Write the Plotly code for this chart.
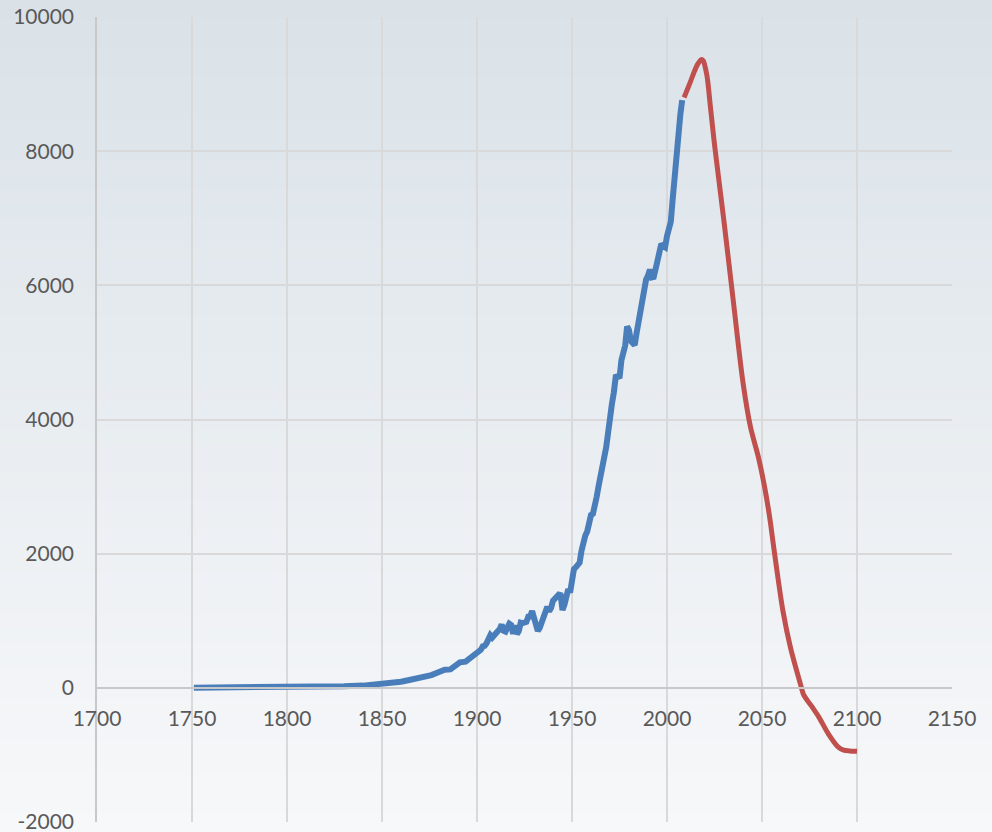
import plotly.graph_objects as go

# ---------------- data ----------------
hist_years = [1751, 1760, 1770, 1780, 1790, 1800, 1810, 1820, 1830, 1840,
              1850, 1855, 1860, 1865, 1870, 1873, 1876, 1880, 1883, 1886,
              1889, 1891, 1894, 1897, 1899] + list(range(1900, 2009))
hist_values = [3, 3, 3, 4, 6, 8, 10, 14, 24, 33,
               54, 70, 91, 120, 147, 185, 190, 236, 270, 275,
               330, 380, 390, 450, 510,
               # 1900-1909
               534, 552, 566, 617, 624, 663, 707, 784, 750, 785,
               # 1910-1919
               819, 836, 879, 943, 850, 838, 901, 955, 936, 806,
               # 1920-1929
               932, 803, 845, 970, 963, 975, 983, 1062, 1065, 1145,
               # 1930-1939
               1053, 940, 847, 893, 973, 1027, 1130, 1209, 1142, 1192,
               # 1940-1949
               1299, 1334, 1342, 1391, 1383, 1160, 1238, 1392, 1469, 1419,
               # 1950-1959
               1630, 1768, 1796, 1841, 1865, 2043, 2178, 2270, 2330, 2462,
               # 1960-1969
               2577, 2594, 2700, 2848, 3008, 3145, 3305, 3411, 3588, 3800,
               # 1970-1979
               4076, 4231, 4399, 4635, 4644, 4615, 4883, 5029, 5105, 5387,
               # 1980-1989
               5332, 5168, 5127, 5110, 5290, 5444, 5610, 5753, 5964, 6089,
               # 1990-1999
               6144, 6235, 6118, 6124, 6242, 6372, 6510, 6619, 6588, 6569,
               # 2000-2008
               6735, 6896, 6949, 7286, 7672, 8020, 8334, 8543, 8760]

proj_years = [2009, 2012, 2014, 2016, 2018, 2019, 2021, 2023, 2025, 2030,
              2035, 2040, 2044, 2048, 2051, 2054, 2056, 2058, 2061, 2065,
              2070, 2072, 2076, 2080, 2085, 2090, 2093, 2096, 2100]
proj_values = [8800, 9010, 9160, 9290, 9365, 9350, 9130, 8620, 8100, 6950,
               5740, 4550, 3880, 3450, 3050, 2550, 2130, 1720, 1150, 600,
               80, -110, -270, -440, -690, -880, -930, -940, -945]

x_ticks = [1700, 1750, 1800, 1850, 1900, 1950, 2000, 2050, 2100, 2150]
y_ticks = [-2000, 0, 2000, 4000, 6000, 8000, 10000]

# ---------------- figure ----------------
W, H = 992, 832
ml, mr, mt, mb = 97, 40, 17, 10
pw, ph = W - ml - mr, H - mt - mb

fig = go.Figure()
fig.add_trace(go.Scatter(x=hist_years, y=hist_values, mode="lines",
                         line=dict(color="#4a7ebb", width=6),
                         showlegend=False, hoverinfo="x+y"))
fig.add_trace(go.Scatter(x=proj_years, y=proj_values, mode="lines",
                         line=dict(color="#c0504d", width=5, shape="spline",
                                   smoothing=0.8),
                         showlegend=False, hoverinfo="x+y"))

# vertical gradient background
top_rgb = (218, 226, 232)
bot_rgb = (247, 248, 250)
n = 60
shapes = []
y_lo = -mb / ph - 0.01
y_hi = 1 + mt / ph + 0.01
for i in range(n):
    t = i / (n - 1)
    r = round(bot_rgb[0] + (top_rgb[0] - bot_rgb[0]) * t)
    g = round(bot_rgb[1] + (top_rgb[1] - bot_rgb[1]) * t)
    b = round(bot_rgb[2] + (top_rgb[2] - bot_rgb[2]) * t)
    y0 = y_lo + (y_hi - y_lo) * i / n
    y1 = y_lo + (y_hi - y_lo) * (i + 1) / n + 0.002
    shapes.append(dict(type="rect", xref="paper", yref="paper",
                       x0=-ml / pw - 0.01, x1=1 + mr / pw + 0.01, y0=y0, y1=y1,
                       fillcolor=f"rgb({r},{g},{b})", line=dict(width=0),
                       layer="below"))

fnt = dict(family="Lato, Carlito, Calibri, sans-serif", size=21, color="#595959")

fig.update_layout(
    width=W, height=H,
    margin=dict(l=ml, r=mr, t=mt, b=mb, pad=0, autoexpand=False),
    paper_bgcolor="rgb(247,248,250)",
    plot_bgcolor="rgba(0,0,0,0)",
    shapes=shapes,
    font=fnt,
    xaxis=dict(range=[1700, 2150], tickvals=x_ticks,
               ticktext=[str(v) for v in x_ticks],
               showgrid=True, gridcolor="#d9d9d9", gridwidth=1.5,
               zeroline=False, showline=True, linecolor="#c8c8c8", linewidth=1.5,
               anchor="free", position=2000 / 12000, automargin=False,
               ticks="outside", ticklen=12, tickcolor="rgba(0,0,0,0)",
               ticklabeloverflow="allow", tickfont=fnt),
    yaxis=dict(range=[-2000, 10000], tickvals=y_ticks,
               ticktext=[str(v) for v in y_ticks],
               showgrid=True, gridcolor="#d9d9d9", gridwidth=1.5,
               zeroline=False, showline=True, linecolor="#c8c8c8", linewidth=1.5,
               automargin=False,
               ticks="outside", ticklen=17, tickcolor="rgba(0,0,0,0)",
               ticklabeloverflow="allow", tickfont=fnt),
)

fig.write_html(
    "out.html",
    config={"displayModeBar": False},
    post_script="document.body.style.margin='0';"
                "document.body.style.overflow='hidden';"
                "document.body.style.background='rgb(218,226,232)';",
)
